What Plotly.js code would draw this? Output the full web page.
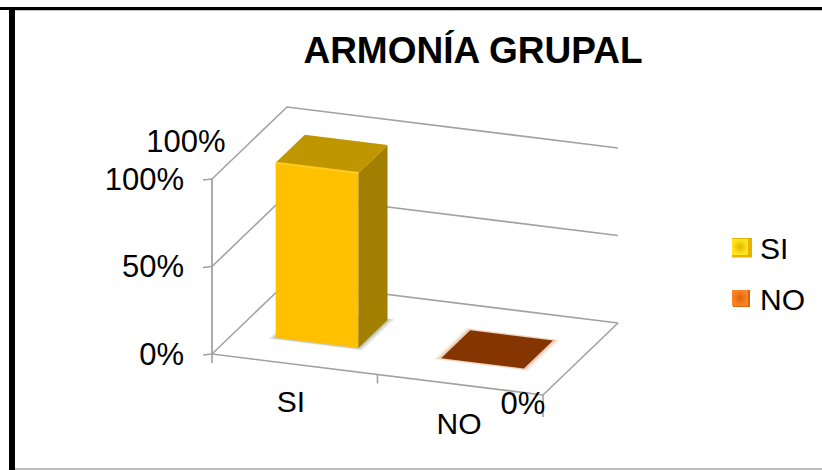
<!DOCTYPE html>
<html>
<head>
<meta charset="utf-8">
<script src="https://cdn.plot.ly/plotly-3.0.1.min.js"></script>
<style>html,body{margin:0;padding:0;background:#fff}#c{width:822px;height:470px}</style>
</head>
<body>
<div id="c"></div>
<script>
var titleText = 'ARMONÍA GRUPAL';
var categories = ['SI', 'NO'];
var values = [100, 0];
var valueLabels = ['100%', '0%'];
var axisTicks = [0, 50, 100];
var axisTickLabels = ['0%', '50%', '100%'];
var FONT = '"Liberation Sans", Arial, sans-serif';

// Oblique projection of the 3D chart box onto the page
function P(u, v, pct) {
  return [212 + 331 * u + 75 * v, 354 + 41 * u - 72 * v - 1.75 * pct];
}
var traces = [];
function poly(pts, color, opacity) {
  traces.push({x: pts.map(function (p) { return p[0]; }).concat(pts[0][0]),
    y: pts.map(function (p) { return p[1]; }).concat(pts[0][1]),
    mode: 'lines', fill: 'toself', fillcolor: color, line: {width: 0, color: color},
    opacity: opacity === undefined ? 1 : opacity, hoverinfo: 'skip', showlegend: false});
}
function line(pts, color, width) {
  traces.push({x: pts.map(function (p) { return p[0]; }), y: pts.map(function (p) { return p[1]; }),
    mode: 'lines', line: {color: color, width: width}, hoverinfo: 'skip', showlegend: false});
}
function label(x, y, text, size, pos) {
  traces.push({x: [x], y: [y], text: [text], mode: 'text', textposition: pos || 'middle center',
    textfont: {family: FONT, size: size, color: '#000'}, hoverinfo: 'skip', showlegend: false});
}
var GRID = '#A2A2A2';

// walls and gridlines
axisTicks.forEach(function (t) {
  line([P(0, 0, t), P(0, 1, t), P(1, 1, t)], GRID, 1.6);
  var a = P(0, 0, t);
  line([[a[0] - 9, a[1] + 1], a], GRID, 1.6);
});
line([P(0, 0, 0), P(0, 0, 100)], GRID, 1.8);
line([P(0, 0, 0), P(1, 0, 0), P(1, 1, 0)], GRID, 1.6);
[0, 0.5, 1].forEach(function (u) {
  var a = P(u, 0, 0);
  line([a, [a[0], a[1] + (u === 1 ? 22 : 9)]], GRID, 1.6);
});

// bars
var SLOT = 0.5, BW = 0.25, V0 = 0.297, V1 = 0.685;
var palette = [
  {front: '#FFC000', top: '#C09600', side: '#A37F00', edge: '#FFCB1E', shadow: '#8E9A80', halo: '#8E9A80'},
  {front: '#843C0C', top: '#843500', side: '#6E2C00', edge: '#843500', shadow: '#5F5F5F', halo: '#D9A27A'}
];
values.forEach(function (val, i) {
  var u0 = SLOT * i + (SLOT - BW) / 2, u1 = u0 + BW, c = palette[i];
  [[0.016, 0.022, 0.22], [0.008, 0.012, 0.4]].forEach(function (s) {
    poly([P(u0 - s[0], V0 - s[1], 0), P(u1 + s[0], V0 - s[1], 0), P(u1 + s[0], V1 + s[1], 0), P(u0 - s[0], V1 + s[1], 0)],
      i === 0 ? c.shadow : c.halo, s[2]);
  });
  if (val > 0) {
    poly([P(u0, V0, 0), P(u1, V0, 0), P(u1, V0, val), P(u0, V0, val)], c.front);
    poly([P(u1, V0, 0), P(u1, V1, 0), P(u1, V1, val), P(u1, V0, val)], c.side);
    poly([P(u0, V0, val), P(u1, V0, val), P(u1, V1, val), P(u0, V1, val)], c.top);
    line([P(u0, V0, val), P(u1, V0, val)], c.edge, 2);
  } else {
    poly([P(u0, V0, val), P(u1, V0, val), P(u1, V1, val), P(u0, V1, val)], c.top);
  }
});

// axis labels, right aligned with a gap before the tick marks
axisTicks.forEach(function (t, i) {
  var a = P(0, 0, t);
  label(a[0] - 28, a[1] + 3, axisTickLabels[i], 31, 'middle left');
});
// category labels
label(291, 404, categories[0], 30);
label(459, 426, categories[1], 30);
// data labels
label(186, 144, valueLabels[0], 31);
label(523, 406, valueLabels[1], 31);

// legend entries: the native legend caps its glyph, so a backing swatch brings it up to size
var legendCols = [['#FFE81E', '#E4B400'], ['#FF8428', '#DB6408']];
poly([[732, 238], [752, 238], [752, 257.5], [732, 257.5]], legendCols[0][1]);
poly([[733, 290], [750, 290], [750, 307], [733, 307]], legendCols[1][1]);
categories.forEach(function (name, i) {
  traces.push({x: [null], y: [null], name: name, mode: 'markers', legendgroup: name,
    marker: {symbol: 'square', size: 22, color: legendCols[i][0], line: {width: 0},
      gradient: {type: 'radial', color: legendCols[i][1]}}, hoverinfo: 'skip'});
});

var layout = {
  width: 822, height: 470,
  margin: {l: 0, r: 0, t: 0, b: 0},
  paper_bgcolor: '#fff', plot_bgcolor: '#fff',
  title: {text: '<b>' + titleText + '</b>', x: 473 / 822, y: 1 - 50 / 470, xanchor: 'center', yanchor: 'middle',
    font: {family: FONT, size: 37, color: '#000'}},
  xaxis: {range: [0, 822], visible: false, fixedrange: true},
  yaxis: {range: [470, 0], visible: false, fixedrange: true},
  showlegend: true,
  legend: {x: 720 / 822, y: 1 - 272.5 / 470, xanchor: 'left', yanchor: 'middle', tracegroupgap: 9,
    bgcolor: 'rgba(0,0,0,0)', font: {family: FONT, size: 30, color: '#000'}},
  shapes: [
    {type: 'rect', xref: 'x', yref: 'y', x0: 0, x1: 822, y0: 7, y1: 10, fillcolor: '#000', line: {width: 0}},
    {type: 'rect', xref: 'x', yref: 'y', x0: 15, x1: 822, y0: 10, y1: 11, fillcolor: '#BDBDBD', line: {width: 0}},
    {type: 'rect', xref: 'x', yref: 'y', x0: 9, x1: 15, y0: 7, y1: 470, fillcolor: '#000', line: {width: 0}},
    {type: 'rect', xref: 'x', yref: 'y', x0: 15, x1: 822, y0: 468, y1: 470, fillcolor: '#BDBDBD', line: {width: 0}}
  ]
};
Plotly.newPlot('c', traces, layout, {displayModeBar: false, staticPlot: true});
</script>
</body>
</html>
